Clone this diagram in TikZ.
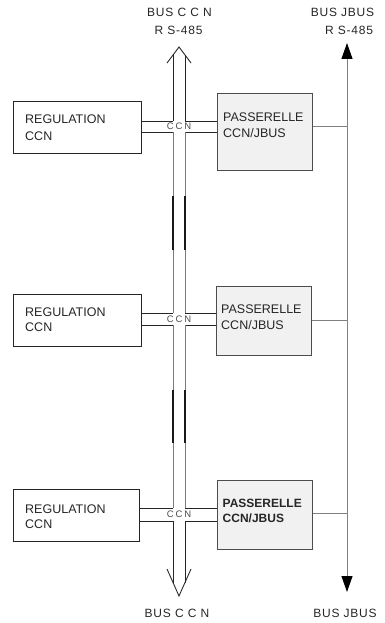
\documentclass[tikz,border=0pt]{standalone}
\usepackage{fontspec}
\setmainfont{Liberation Sans}
\newfontfamily\spcfont[LetterSpace=6.5]{Liberation Sans}
\newfontfamily\ccnfont[LetterSpace=20]{Liberation Sans}
\usetikzlibrary{arrows.meta}
\definecolor{busgray}{HTML}{7A7A7A}
\definecolor{boxfill}{HTML}{F1F1F1}
\tikzset{jtip/.tip={Triangle[width=11pt,length=16pt,fill=black,color=black]}}
\begin{document}
\begin{tikzpicture}[x=1pt,y=-1pt,
  regbox/.style={draw=black!85,line width=0.9pt,minimum width=#1,minimum height=52pt,anchor=north west,inner sep=0pt},
  pasbox/.style={draw=black!70,fill=boxfill,line width=0.9pt,minimum width=95pt,minimum height=#1,anchor=north west,inner sep=0pt},
  boxtxt/.style={anchor=base west,inner sep=0pt,text=black!85,font=\fontsize{12.5}{15}\selectfont},
  bustxt/.style={anchor=base,inner sep=0pt,text=black!85,font=\spcfont\fontsize{12}{14}\selectfont},
  ccntxt/.style={anchor=base,inner sep=0pt,text=black!70,font=\ccnfont\fontsize{9.5}{11}\selectfont},
  busline/.style={draw=busgray,line width=0.9pt},
  conn/.style={draw=black!85,line width=0.9pt},
  darkseg/.style={draw=black!90,line width=1.2pt},
  jline/.style={draw=black!50,line width=1pt}
]
\useasboundingbox (0,0) rectangle (385,623);

% labels top / bottom
\node[bustxt] (tccn1) at (179.5,17) {BUS C C N};
\node[bustxt] (tccn2) at (178.5,35) {R S-485};
\node[bustxt] (tjb1) at (342.5,17) {BUS JBUS};
\node[bustxt] (tjb2) at (349,35) {R S-485};
\node[bustxt] (bccn) at (177,617) {BUS C C N};
\node[bustxt] (bjb) at (345,617) {BUS JBUS};

% boxes row 1
\node[regbox=128pt] (r1) at (13,101) {};
\node[boxtxt] (r1a) at (25,124) {REGULATION};
\node[boxtxt] (r1b) at (25,140) {CCN};
\node[pasbox=77pt] (p1) at (217,93) {};
\node[boxtxt] (p1a) at (223,121.5) {PASSERELLE};
\node[boxtxt] (p1b) at (223,137.5) {CCN/JBUS};
\node[ccntxt] (c1) at (179,129.5) {CCN};

% row 2
\node[regbox=128pt] (r2) at (13,294) {};
\node[boxtxt] (r2a) at (25,316.5) {REGULATION};
\node[boxtxt] (r2b) at (25,331.5) {CCN};
\node[pasbox=69pt] (p2) at (216,286) {};
\node[boxtxt] (p2a) at (221,313.5) {PASSERELLE};
\node[boxtxt] (p2b) at (221,329) {CCN/JBUS};
\node[ccntxt] (c2) at (179,322.5) {CCN};

% row 3
\node[regbox=126pt] (r3) at (13,489) {};
\node[boxtxt] (r3a) at (25,513.5) {REGULATION};
\node[boxtxt] (r3b) at (25,528) {CCN};
\node[pasbox=69pt] (p3) at (217,480) {};
\node[boxtxt,font=\bfseries\fontsize{12}{15}\selectfont] (p3a) at (222.5,507.5) {PASSERELLE};
\node[boxtxt,font=\bfseries\fontsize{12}{15}\selectfont] (p3b) at (222.5,522.5) {CCN/JBUS};
\node[ccntxt] (c3) at (179,517.5) {CCN};

% bus CCN arrows
\coordinate (ttip) at (179,47);
\coordinate (btip) at (179,596);
\draw[conn] (167,63) -- (ttip) -- (191,63);
\draw[conn] (167,569) -- (btip) -- (191,569);

% bus CCN left line with branches
\draw[conn] (173,55) -- (173,121);
\draw[conn] (173,121) -- (r1.east |- 0,121);
\draw[conn] (r1.east |- 0,132) -- (173,132);
\draw[busline] (173,132) -- (173,313);
\draw[conn] (173,313) -- (r2.east |- 0,313);
\draw[conn] (r2.east |- 0,325) -- (173,325);
\draw[busline] (173,325) -- (173,508);
\draw[conn] (173,508) -- (r3.east |- 0,508);
\draw[conn] (r3.east |- 0,521) -- (173,521);
\draw[conn] (173,521) -- (173,582.5);

% right line
\draw[conn] (185,55) -- (185,121);
\draw[conn] (185,121) -- (p1.west |- 0,121);
\draw[conn] (p1.west |- 0,132) -- (185,132);
\draw[busline] (185,132) -- (185,313);
\draw[conn] (185,313) -- (p2.west |- 0,313);
\draw[conn] (p2.west |- 0,325) -- (185,325);
\draw[busline] (185,325) -- (185,508);
\draw[conn] (185,508) -- (p3.west |- 0,508);
\draw[conn] (p3.west |- 0,521) -- (185,521);
\draw[conn] (185,521) -- (185,582.5);

% dark segments
\draw[darkseg] (173,196) -- (173,250);
\draw[darkseg] (185,196) -- (185,250);
\draw[darkseg] (173,390) -- (173,443);
\draw[darkseg] (185,390) -- (185,443);

% JBUS line
\coordinate (jtop) at (347,43);
\coordinate (jbot) at (347,592);
\draw[jline,jtip-jtip] (jtop) -- (jbot);
\draw[jline] (p1.east |- 0,126) -- (347,126);
\draw[jline] (p2.east |- 0,320) -- (347,320);
\draw[jline] (p3.east |- 0,513) -- (347,513);
\end{tikzpicture}
\end{document}
